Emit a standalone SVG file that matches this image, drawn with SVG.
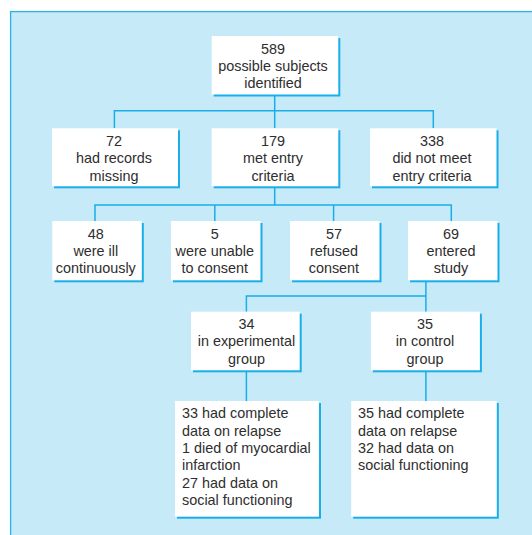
<svg xmlns="http://www.w3.org/2000/svg" width="532" height="535" viewBox="0 0 532 535">
<style>
.bg{fill:#c7eaf9;stroke:#29b4e8;stroke-width:1.3}
.sh{fill:#1aaee8}
.bx{fill:#ffffff}
.t{font-family:"Liberation Sans",Arial,sans-serif;font-size:14.4px;fill:#2e2e2e;text-anchor:middle}
.tl{font-family:"Liberation Sans",Arial,sans-serif;font-size:14.4px;fill:#2e2e2e;text-anchor:start}
.c{fill:none;stroke:#1aaee8;stroke-width:1.5}
</style>
<rect class="bg" x="10.6" y="11.6" width="540" height="540"/>
<g id="connectors">
<path class="c" d="M274.7 94.5V128.3M114.4 128.3V110.7H433.3V128.3"/>
<path class="c" d="M274.7 186.5V205M95 221V205H451.3V221M214.8 205V221M333.6 205V221"/>
<path class="c" d="M425.9 280.3V311.7M246.4 311.7V296H425.9"/>
<path class="c" d="M246.4 370.3V401M425.9 370.3V401"/>
</g>
<g id="n589">
<rect class="sh" x="213.7" y="38" width="126.6" height="58.5"/>
<rect class="bx" x="211.7" y="36" width="126.6" height="58.5"/>
<text class="t" x="273" y="53.5">589</text>
<text class="t" x="273" y="70.9">possible subjects</text>
<text class="t" x="273" y="88.3">identified</text>
</g>
<g id="n72">
<rect class="sh" x="54" y="130.3" width="126" height="58"/>
<rect class="bx" x="52" y="128.3" width="126" height="58"/>
<text class="t" x="114" y="146">72</text>
<text class="t" x="114" y="163.4">had records</text>
<text class="t" x="114" y="180.8">missing</text>
</g>
<g id="n179">
<rect class="sh" x="213.7" y="130.3" width="126.6" height="58"/>
<rect class="bx" x="211.7" y="128.3" width="126.6" height="58"/>
<text class="t" x="273" y="146">179</text>
<text class="t" x="273" y="163.4">met entry</text>
<text class="t" x="273" y="180.8">criteria</text>
</g>
<g id="n338">
<rect class="sh" x="372" y="130.3" width="126.5" height="58"/>
<rect class="bx" x="370" y="128.3" width="126.5" height="58"/>
<text class="t" x="432" y="146">338</text>
<text class="t" x="432" y="163.4">did not meet</text>
<text class="t" x="432" y="180.8">entry criteria</text>
</g>
<g id="n48">
<rect class="sh" x="54.3" y="223" width="89.5" height="59.3"/>
<rect class="bx" x="52.3" y="221" width="89.5" height="59.3"/>
<text class="t" x="95.8" y="238.5">48</text>
<text class="t" x="95.8" y="255.9">were ill</text>
<text class="t" x="95.8" y="273.3">continuously</text>
</g>
<g id="n5">
<rect class="sh" x="173" y="223" width="89.5" height="59.3"/>
<rect class="bx" x="171" y="221" width="89.5" height="59.3"/>
<text class="t" x="214.8" y="238.5">5</text>
<text class="t" x="214.8" y="255.9">were unable</text>
<text class="t" x="214.8" y="273.3">to consent</text>
</g>
<g id="n57">
<rect class="sh" x="292" y="223" width="89.5" height="59.3"/>
<rect class="bx" x="290" y="221" width="89.5" height="59.3"/>
<text class="t" x="333.9" y="238.5">57</text>
<text class="t" x="333.9" y="255.9">refused</text>
<text class="t" x="333.9" y="273.3">consent</text>
</g>
<g id="n69">
<rect class="sh" x="410" y="223" width="89.5" height="59.3"/>
<rect class="bx" x="408" y="221" width="89.5" height="59.3"/>
<text class="t" x="451" y="238.5">69</text>
<text class="t" x="451" y="255.9">entered</text>
<text class="t" x="451" y="273.3">study</text>
</g>
<g id="n34">
<rect class="sh" x="193" y="313.7" width="108.7" height="58.6"/>
<rect class="bx" x="191" y="311.7" width="108.7" height="58.6"/>
<text class="t" x="246.5" y="329">34</text>
<text class="t" x="246.5" y="346.4">in experimental</text>
<text class="t" x="246.5" y="363.8">group</text>
</g>
<g id="n35">
<rect class="sh" x="372.9" y="313.7" width="109" height="58.6"/>
<rect class="bx" x="370.9" y="311.7" width="109" height="58.6"/>
<text class="t" x="425" y="329">35</text>
<text class="t" x="425" y="346.4">in control</text>
<text class="t" x="425" y="363.8">group</text>
</g>
<g id="nexp">
<rect class="sh" x="177" y="403" width="144" height="115.7"/>
<rect class="bx" x="175" y="401" width="144" height="115.7"/>
<text class="tl" x="182" y="418.3">33 had complete</text>
<text class="tl" x="182" y="435.6">data on relapse</text>
<text class="tl" x="182" y="452.9">1 died of myocardial</text>
<text class="tl" x="182" y="470.2">infarction</text>
<text class="tl" x="182" y="487.5">27 had data on</text>
<text class="tl" x="182" y="504.8">social functioning</text>
</g>
<g id="nctl">
<rect class="sh" x="353.2" y="403" width="145.6" height="115.7"/>
<rect class="bx" x="351.2" y="401" width="145.6" height="115.7"/>
<text class="tl" x="358" y="418.3">35 had complete</text>
<text class="tl" x="358" y="435.6">data on relapse</text>
<text class="tl" x="358" y="452.9">32 had data on</text>
<text class="tl" x="358" y="470.2">social functioning</text>
</g>
</svg>
